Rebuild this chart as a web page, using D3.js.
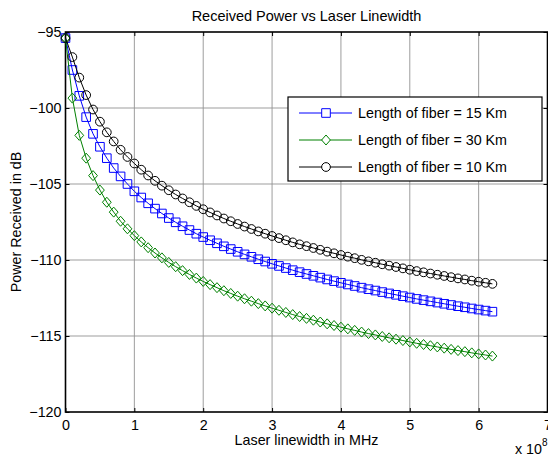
<!DOCTYPE html>
<html>
<head>
<meta charset="utf-8">
<script src="https://cdn.jsdelivr.net/npm/d3@7"></script>
<style>
  html, body { margin: 0; padding: 0; background: #fff; }
  svg { display: block; font-family: Arial, "Liberation Sans", sans-serif; }
</style>
</head>
<body>
<svg id="chart" width="548" height="457"></svg>
<script>
// ---- data (x in units of 1e8 Hz) ----
const xValues = [0,0.1,0.2,0.3,0.4,0.5,0.6,0.7,0.8,0.9,1.0,1.1,1.2,1.3,1.4,1.5,1.6,1.7,1.8,1.9,2.0,2.1,2.2,2.3,2.4,2.5,2.6,2.7,2.8,2.9,3.0,3.1,3.2,3.3,3.4,3.5,3.6,3.7,3.8,3.9,4.0,4.1,4.2,4.3,4.4,4.5,4.6,4.7,4.8,4.9,5.0,5.1,5.2,5.3,5.4,5.5,5.6,5.7,5.8,5.9,6.0,6.1,6.2];

const fiber15 = [-95.4,-97.5,-99.2,-100.6,-101.7,-102.55,-103.3,-103.95,-104.5,-105.0,
  -105.48,-105.89,-106.27,-106.62,-106.94,-107.24,-107.52,-107.78,-108.03,-108.27,
  -108.49,-108.70,-108.90,-109.10,-109.28,-109.46,-109.63,-109.79,-109.95,-110.10,
  -110.25,-110.39,-110.53,-110.67,-110.80,-110.92,-111.04,-111.16,-111.28,-111.39,
  -111.50,-111.61,-111.71,-111.82,-111.92,-112.01,-112.11,-112.20,-112.29,-112.38,
  -112.47,-112.56,-112.64,-112.72,-112.80,-112.88,-112.96,-113.04,-113.11,-113.19,
  -113.26,-113.33,-113.40];

const fiber30 = [-95.4,-99.35,-101.8,-103.3,-104.45,-105.4,-106.2,-106.85,-107.45,-107.95,
  -108.40,-108.81,-109.19,-109.54,-109.86,-110.16,-110.44,-110.70,-110.95,-111.19,
  -111.41,-111.62,-111.82,-112.02,-112.20,-112.38,-112.55,-112.71,-112.87,-113.02,
  -113.17,-113.31,-113.45,-113.59,-113.72,-113.84,-113.96,-114.08,-114.20,-114.31,
  -114.42,-114.53,-114.63,-114.74,-114.84,-114.93,-115.03,-115.12,-115.21,-115.30,
  -115.39,-115.48,-115.56,-115.64,-115.72,-115.80,-115.88,-115.96,-116.03,-116.11,
  -116.18,-116.25,-116.32];

const fiber10 = [-95.4,-96.65,-98.0,-99.15,-100.1,-100.9,-101.6,-102.2,-102.75,-103.22,
  -103.65,-104.06,-104.44,-104.79,-105.11,-105.41,-105.69,-105.95,-106.20,-106.44,
  -106.66,-106.87,-107.07,-107.27,-107.45,-107.63,-107.80,-107.96,-108.12,-108.27,
  -108.42,-108.56,-108.70,-108.84,-108.97,-109.09,-109.21,-109.33,-109.45,-109.56,
  -109.67,-109.78,-109.88,-109.99,-110.09,-110.18,-110.28,-110.37,-110.46,-110.55,
  -110.64,-110.73,-110.81,-110.89,-110.97,-111.05,-111.13,-111.21,-111.28,-111.36,
  -111.43,-111.50,-111.57];

const seriesNames = ["Length of fiber = 15 Km", "Length of fiber = 30 Km", "Length of fiber = 10 Km"];
const seriesColors = ["#0000ff", "#008000", "#000000"];
const seriesMarkers = ["square", "diamond", "circle"];
const xTicks = [0,1,2,3,4,5,6,7];
const yTicks = [-120,-115,-110,-105,-100,-95];
const titleText = "Received Power vs Laser Linewidth";
const xLabelText = "Laser linewidth in MHz";
const yLabelText = "Power Received in dB";

// ---- layout ----
const FS = 14.3;
const svg = d3.select("#chart");
const pL = 65.5, pR = 547.5, pT = 32, pB = 412;

const x = d3.scaleLinear().domain([0, 7]).range([pL, pR]);
const y = d3.scaleLinear().domain([-120, -95]).range([pB, pT]);

// grid
const grid = svg.append("g").attr("class", "grid");
grid.selectAll("line.gx").data(xTicks.filter(t => t > 0 && t < 7)).enter().append("line")
  .attr("x1", d => x(d)).attr("x2", d => x(d)).attr("y1", pT).attr("y2", pB)
  .attr("stroke", "#929292").attr("stroke-width", 0.9);
grid.selectAll("line.gy").data(yTicks.filter(t => t > -120 && t < -95)).enter().append("line")
  .attr("y1", d => y(d)).attr("y2", d => y(d)).attr("x1", pL).attr("x2", pR)
  .attr("stroke", "#929292").attr("stroke-width", 0.9);

// axes
const fmtX = d3.format("d");
const gx = svg.append("g").attr("transform", `translate(0,${pB})`)
  .call(d3.axisBottom(x).tickValues(xTicks).tickFormat(fmtX).tickSize(-4).tickPadding(8));
const gy = svg.append("g").attr("transform", `translate(${pL},0)`)
  .call(d3.axisLeft(y).tickValues(yTicks).tickFormat(fmtX).tickSize(-4).tickPadding(4));
const gt = svg.append("g").attr("transform", `translate(0,${pT})`)
  .call(d3.axisTop(x).tickValues(xTicks).tickFormat("").tickSize(-4));
const gr = svg.append("g").attr("transform", `translate(${pR},0)`)
  .call(d3.axisRight(y).tickValues(yTicks).tickFormat("").tickSize(-4));
[gx, gy, gt, gr].forEach(g => {
  g.select(".domain").remove();
  g.selectAll(".tick line").attr("stroke", "#000").attr("stroke-width", 1);
  g.selectAll(".tick text").attr("font-size", FS).attr("fill", "#000")
    .attr("font-family", "Arial, 'Liberation Sans', sans-serif");
});

// box
svg.append("rect").attr("x", pL).attr("y", pT)
  .attr("width", pR - pL).attr("height", pB - pT)
  .attr("fill", "none").attr("stroke", "#000").attr("stroke-width", 1.6);

// marker shapes
function markerPath(kind) {
  if (kind === "square") return "M-4.3,-4.3H4.3V4.3H-4.3Z";
  if (kind === "diamond") return "M0,-5L4.4,0L0,5L-4.4,0Z";
  return d3.symbol(d3.symbolCircle, 60)();
}

const allSeries = [fiber15, fiber30, fiber10];
const line = d3.line().x((d, i) => x(xValues[i])).y(d => y(d));
const plot = svg.append("g");
allSeries.forEach((vals, si) => {
  const g = plot.append("g");
  g.append("path").datum(vals).attr("d", line)
    .attr("fill", "none").attr("stroke", seriesColors[si]).attr("stroke-width", 1);
  g.selectAll("path.m").data(vals).enter().append("path").attr("class", "m")
    .attr("d", markerPath(seriesMarkers[si]))
    .attr("transform", (d, i) => `translate(${x(xValues[i])},${y(d)})`)
    .attr("fill", "none").attr("stroke", seriesColors[si]).attr("stroke-width", 1);
});

// legend
const lg = svg.append("g");
lg.append("rect").attr("x", 288).attr("y", 97).attr("width", 254).attr("height", 84)
  .attr("fill", "#fff").attr("stroke", "#000").attr("stroke-width", 1.2);
seriesNames.forEach((name, i) => {
  const ry = 113 + i * 27;
  lg.append("line").attr("x1", 299).attr("x2", 352).attr("y1", ry).attr("y2", ry)
    .attr("stroke", seriesColors[i]).attr("stroke-width", 1);
  lg.append("path").attr("d", markerPath(seriesMarkers[i]))
    .attr("transform", `translate(326,${ry})`)
    .attr("fill", "#fff").attr("stroke", seriesColors[i]).attr("stroke-width", 1);
  lg.append("text").attr("x", 358).attr("y", ry).attr("dy", "0.36em")
    .attr("font-size", FS).attr("fill", "#000").text(name);
});

// titles
svg.append("text").attr("x", (pL + pR) / 2).attr("y", 21)
  .attr("text-anchor", "middle").attr("font-size", 14.5).text(titleText);
svg.append("text").attr("x", (pL + pR) / 2).attr("y", 445)
  .attr("text-anchor", "middle").attr("font-size", FS).text(xLabelText);
svg.append("text").attr("transform", `translate(21,${(pT + pB) / 2}) rotate(-90)`)
  .attr("text-anchor", "middle").attr("font-size", FS).text(yLabelText);
const exp = svg.append("text").attr("x", 515).attr("y", 454).attr("font-size", FS);
exp.append("tspan").text("x 10");
exp.append("tspan").attr("dy", -8).attr("font-size", 10).text("8");
</script>
</body>
</html>
